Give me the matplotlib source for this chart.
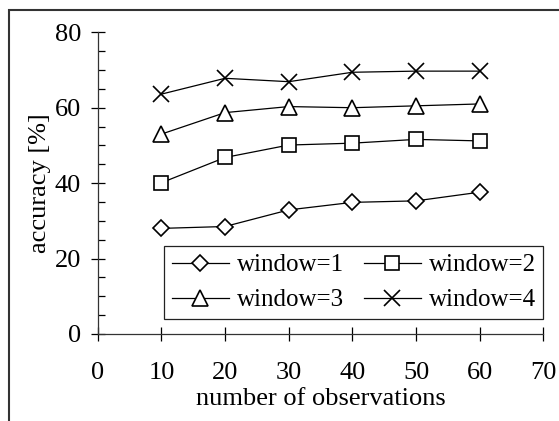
import matplotlib
matplotlib.use('Agg')
from matplotlib import pyplot as plt
from matplotlib.patches import Rectangle

plt.rc('font', family='serif', size=19)
plt.rc('font', serif=['Liberation Serif', 'DejaVu Serif'])

obs = [10, 20, 30, 40, 50, 60]
win1 = [28.0, 28.5, 32.9, 34.9, 35.3, 37.6]
win2 = [40.1, 46.8, 50.1, 50.6, 51.6, 51.2]
win3 = [53.0, 58.7, 60.3, 60.0, 60.5, 61.0]
win4 = [63.6, 67.8, 66.9, 69.4, 69.7, 69.7]
labels = ['window=1', 'window=2', 'window=3', 'window=4']

fig = plt.figure(figsize=(5.59, 4.21), dpi=100)
ax = fig.add_axes([0.1748, 0.2067, 0.7972, 0.7166])

# frame around the figure (partly cut off like the original)
fig.patches.append(Rectangle((9 / 559, -0.2), 1.2, 1.2 - 10 / 421,
                             transform=fig.transFigure, fill=False,
                             edgecolor='#333333', linewidth=1.5, clip_on=False))

mk = dict(color='black', linewidth=0.9, markerfacecolor='white',
          markeredgecolor='black', markeredgewidth=1.2)
l1, = ax.plot(obs, win1, marker='D', markersize=8.5, label=labels[0], **mk)
l2, = ax.plot(obs, win2, marker='s', markersize=10, label=labels[1], **mk)
l3, = ax.plot(obs, win3, marker='^', markersize=11, label=labels[2], **mk)
l4, = ax.plot(obs, win4, marker='x', markersize=12, label=labels[3], **mk)

ax.set_xlim(0, 70)
ax.set_ylim(0, 80)
ax.set_xticks(range(0, 71, 10))
ax.set_yticks(range(0, 81, 20))
ax.set_yticks(range(0, 81, 5), minor=True)
ax.spines['top'].set_visible(False)
ax.spines['right'].set_visible(False)
for s in ['left', 'bottom']:
    ax.spines[s].set_linewidth(0.9)
    ax.spines[s].set_color('#333333')
ax.tick_params(which='major', direction='inout', length=10, width=0.9)
ax.tick_params(axis='x', which='major', pad=15)
ax.tick_params(axis='y', which='major', pad=7)
ax.tick_params(axis='y', which='minor', direction='in', length=5, width=0.9)
ax.tick_params(axis='x', which='minor', length=0)

ax.set_xlabel('number of observations', labelpad=3)
ax.set_ylabel('accuracy [%]', labelpad=3)

# row-wise order like the original
leg = ax.legend([l1, l3, l2, l4], [labels[0], labels[2], labels[1], labels[3]],
                ncol=2, loc='lower right', bbox_to_anchor=(1.0, 0.05),
                borderaxespad=0, fancybox=False, framealpha=1, edgecolor='#222222',
                handlelength=2.3, columnspacing=0.8, handletextpad=0.3,
                borderpad=0.3, labelspacing=0.5, fontsize=18)
leg.get_frame().set_linewidth(0.9)

plt.savefig('out.png', dpi=100)
